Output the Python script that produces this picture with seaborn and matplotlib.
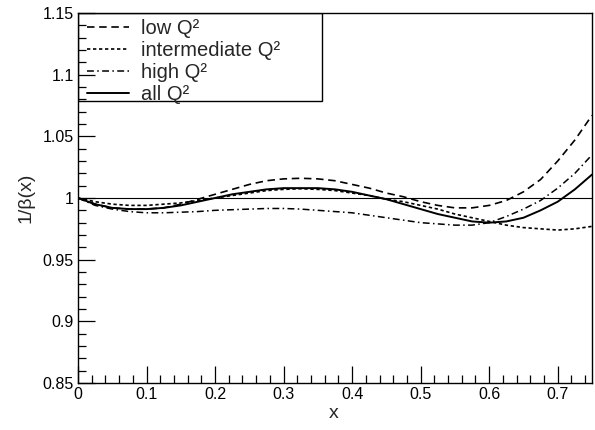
import numpy as np
import pandas as pd
import matplotlib
matplotlib.use("Agg")
import matplotlib.pyplot as plt
from matplotlib.ticker import MultipleLocator, FuncFormatter
from matplotlib.patches import Rectangle
import seaborn as sns

# x grid of the curves
x = [0.0, 0.025, 0.05, 0.075, 0.1, 0.125, 0.15, 0.175, 0.2, 0.225, 0.25,
     0.275, 0.3, 0.325, 0.35, 0.375, 0.4, 0.425, 0.45, 0.475, 0.5,
     0.525, 0.55, 0.575, 0.6, 0.625, 0.65, 0.675, 0.7, 0.725, 0.75]

low_q2 = [1.000, 0.995, 0.992, 0.991, 0.991, 0.992, 0.995, 0.999, 1.003, 1.007, 1.011,
          1.014, 1.0155, 1.016, 1.0155, 1.014, 1.011, 1.008, 1.004, 1.001, 0.997,
          0.994, 0.992, 0.992, 0.994, 0.998, 1.005, 1.015, 1.030, 1.047, 1.067]

mid_q2 = [1.000, 0.997, 0.995, 0.994, 0.994, 0.995, 0.996, 0.998, 1.000, 1.002, 1.004,
          1.006, 1.007, 1.0075, 1.007, 1.006, 1.004, 1.002, 0.999, 0.997, 0.994,
          0.991, 0.987, 0.984, 0.981, 0.978, 0.976, 0.975, 0.974, 0.975, 0.977]

high_q2 = [1.000, 0.994, 0.991, 0.989, 0.988, 0.988, 0.9885, 0.989, 0.990, 0.9905, 0.991,
           0.9915, 0.9915, 0.991, 0.990, 0.989, 0.988, 0.986, 0.984, 0.982, 0.980,
           0.979, 0.978, 0.978, 0.980, 0.985, 0.991, 0.998, 1.008, 1.020, 1.035]

all_q2 = [1.000, 0.995, 0.992, 0.991, 0.991, 0.992, 0.994, 0.997, 1.000, 1.003, 1.005,
          1.007, 1.008, 1.008, 1.008, 1.007, 1.005, 1.002, 0.999, 0.995, 0.991,
          0.987, 0.984, 0.981, 0.980, 0.981, 0.984, 0.990, 0.997, 1.007, 1.019]

labels = ["low Q²", "intermediate Q²", "high Q²", "all Q²"]

sns.set_style("ticks")
plt.rcParams["font.family"] = ["Liberation Sans", "DejaVu Sans"]

fig = plt.figure(figsize=(5.95, 4.3), dpi=100)
ax = fig.add_axes([78 / 595, 47 / 430, 514 / 595, 370 / 430])

styles = [
    dict(linestyle=(0, (4.5, 2.8)), linewidth=1.2),
    dict(linestyle=(0, (2.0, 1.6)), linewidth=1.2),
    dict(linestyle=(0, (4.5, 2.2, 1.0, 2.2)), linewidth=1.1),
    dict(linestyle="-", linewidth=1.4),
]
series = [low_q2, mid_q2, high_q2, all_q2]

for vals, lab, st in zip(series, labels, styles):
    df = pd.DataFrame({"x": x, "y": vals})
    sns.lineplot(data=df, x="x", y="y", ax=ax, color="black", label=lab, **st)

ax.axhline(1.0, color="black", linewidth=0.8, zorder=1)

ax.set_xlim(0, 0.75)
ax.set_ylim(0.85, 1.15)
ax.xaxis.set_major_locator(MultipleLocator(0.1))
ax.xaxis.set_minor_locator(MultipleLocator(0.02))
ax.yaxis.set_major_locator(MultipleLocator(0.05))
ax.yaxis.set_minor_locator(MultipleLocator(0.01))
fmt = FuncFormatter(lambda v, p: "%g" % round(v, 3))
ax.xaxis.set_major_formatter(fmt)
ax.yaxis.set_major_formatter(fmt)
ax.tick_params(which="both", direction="in", top=False, right=False, colors="black",
               labelsize=11.5)
ax.tick_params(which="major", length=12, width=0.9)
ax.tick_params(which="minor", length=6, width=0.9)
ax.tick_params(axis="x", pad=3)
ax.tick_params(axis="y", pad=3)
for sp in ax.spines.values():
    sp.set_visible(True)
    sp.set_color("black")
    sp.set_linewidth(1.0)

ax.set_xlabel("x", fontsize=14)
ax.set_ylabel("1/β(x)", fontsize=14)
ax.xaxis.set_label_coords(0.498, -0.06)
ax.yaxis.set_label_coords(-0.084, 0.5)

# legend without its own frame, boxed like the original
leg = ax.legend(loc="upper left", bbox_to_anchor=(9 / 514, 1 - 6 / 370), borderaxespad=0,
                fontsize=14.5, frameon=False, handlelength=2.1, handletextpad=0.6,
                labelspacing=0.15, borderpad=0)
ax.add_patch(Rectangle((0, 1 - 88 / 370), 244 / 514, 88 / 370, transform=ax.transAxes,
                       facecolor="none", edgecolor="black", linewidth=1.0, zorder=5))

fig.savefig("out.png", dpi=100)
